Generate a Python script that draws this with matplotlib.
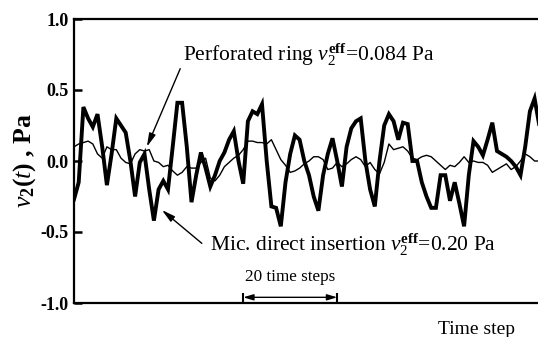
import numpy as np
import matplotlib
matplotlib.use("Agg")
import matplotlib.pyplot as plt

plt.rcParams['font.family'] = ['Liberation Serif', 'DejaVu Serif']
plt.rcParams['mathtext.fontset'] = 'custom'
plt.rcParams['mathtext.rm'] = 'Liberation Serif'
plt.rcParams['mathtext.it'] = 'Liberation Serif:italic'
plt.rcParams['mathtext.bf'] = 'Liberation Serif:bold'

# mic. direct insertion (thick) and perforated ring (thin), one value per time step
mic_direct = [-0.27, -0.15, 0.38, 0.30, 0.24, 0.33, 0.10, -0.17, 0.05, 0.30,
              0.25, 0.20, 0.00, -0.25, -0.01, 0.05, -0.20, -0.42, -0.20, -0.14,
              -0.20, 0.10, 0.41, 0.41, 0.10, -0.29, -0.10, 0.06, -0.05, -0.18,
              -0.10, 0.00, 0.06, 0.15, 0.21, 0.00, -0.16, 0.28, 0.35, 0.33,
              0.40, 0.00, -0.32, -0.33, -0.46, -0.15, 0.05, 0.18, 0.15, 0.00,
              -0.10, -0.25, -0.35, -0.10, 0.05, 0.16, 0.00, -0.18, 0.10, 0.23,
              0.28, 0.30, 0.00, -0.20, -0.32, 0.00, 0.25, 0.33, 0.28, 0.15,
              0.27, 0.26, 0.00, 0.00, -0.15, -0.25, -0.33, -0.33, -0.10, -0.10,
              -0.28, -0.15, -0.30, -0.46, -0.10, 0.14, 0.10, 0.04, 0.15, 0.27,
              0.07, 0.05, 0.03, 0.00, -0.04, -0.10, 0.10, 0.35, 0.44, 0.25]

perf_ring = [0.10, 0.12, 0.13, 0.14, 0.12, 0.05, 0.02, 0.10, 0.08, 0.08,
             0.02, -0.01, -0.02, 0.05, 0.08, 0.07, 0.08, 0.00, -0.01, -0.04,
             -0.03, -0.07, -0.10, -0.08, -0.04, -0.05, -0.05, -0.01, 0.02, -0.12,
             -0.14, -0.10, -0.04, -0.01, 0.02, 0.04, 0.08, 0.14, 0.14, 0.13,
             0.13, 0.12, 0.15, 0.08, 0.01, -0.03, -0.08, -0.07, -0.05, -0.02,
             0.00, 0.03, 0.03, 0.01, -0.06, -0.05, -0.01, -0.04, -0.02, 0.01,
             0.03, 0.01, -0.04, -0.01, -0.06, -0.09, -0.01, 0.12, 0.08, 0.09,
             0.10, 0.07, 0.02, 0.01, 0.03, 0.04, 0.03, 0.00, -0.03, -0.06,
             -0.03, -0.04, -0.01, 0.03, -0.01, 0.00, -0.01, -0.01, -0.03, -0.08,
             -0.06, -0.04, -0.02, -0.06, -0.04, 0.00, 0.05, 0.03, 0.00, 0.00]

t = np.arange(len(mic_direct))
yticks = [-1.0, -0.5, 0.0, 0.5, 1.0]

fig = plt.figure(figsize=(5.38, 3.37), dpi=100)
ax = fig.add_axes([74 / 538, 1 - 303 / 337, 470 / 538, 284 / 337])

ax.plot(t, perf_ring, color='black', lw=1.0)
ax.plot(t, mic_direct, color='black', lw=2.8, solid_joinstyle='miter')

ax.set_xlim(0, 100)
ax.set_ylim(-1.0, 1.0)
ax.set_yticks(yticks)
ax.set_yticklabels([f"{v:.1f}" for v in yticks], fontweight='bold', fontsize=13)
ax.set_xticks([])
ax.tick_params(axis='y', direction='in', length=6, width=1.8, pad=4)
for s in ax.spines.values():
    s.set_linewidth(1.6)

ax.set_ylabel(r"$\mathbf{\mathit{v}_2(\mathit{t})}$ , Pa", fontsize=18.5,
              fontweight='bold', labelpad=2)
fig.text(477 / 538, 1 - 330 / 337, "Time step", fontsize=14, ha='center', va='center')

# annotations
arr = dict(arrowstyle='-|>,head_length=0.8,head_width=0.2', color='black', lw=1.0,
           shrinkA=0, shrinkB=0)
ax.text(23.2, 0.75, r"Perforated ring $v_2^{\mathbf{eff}}$=0.084 Pa", fontsize=15.5,
        ha='left', va='center')
ax.annotate('', xy=(15.5, 0.10), xytext=(22.6, 0.65), arrowprops=arr)

ax.text(28.9, -0.59, r"Mic. direct insertion $v_2^{\mathbf{eff}}$=0.20 Pa", fontsize=15.5,
        ha='left', va='center')
ax.annotate('', xy=(18.7, -0.345), xytext=(27.2, -0.58), arrowprops=arr)

# 20 time step scale marker
ax.text(46, -0.82, "20 time steps", fontsize=12.3, ha='center', va='center')
ax.annotate('', xy=(36, -0.96), xytext=(56, -0.96),
            arrowprops=dict(arrowstyle='<|-|>,head_length=0.6,head_width=0.18',
                            color='black', lw=1.0, shrinkA=0, shrinkB=0))
ax.vlines([36, 56], -0.99, -0.93, color='black', lw=1.5)

fig.savefig("out.png", dpi=100)
